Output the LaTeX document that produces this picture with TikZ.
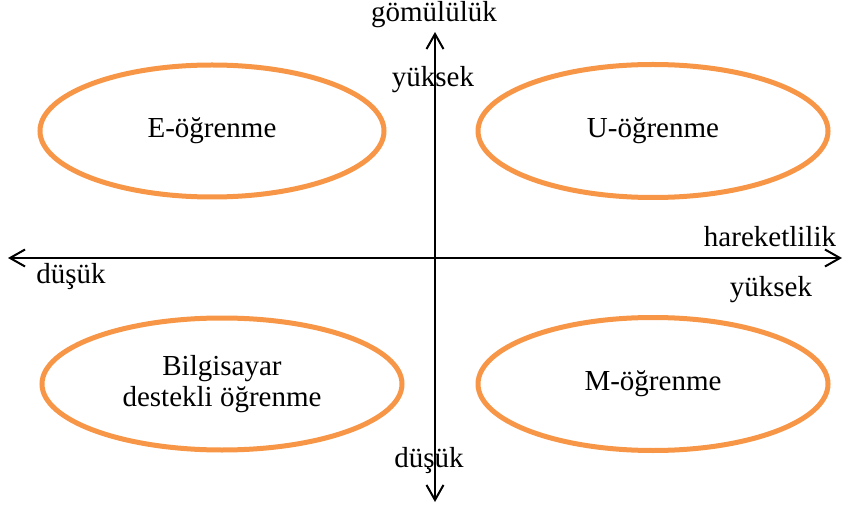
\documentclass[tikz,border=0pt]{standalone}
\usepackage{fontspec}
\setmainfont{Liberation Serif}
\usetikzlibrary{shapes.geometric,arrows.meta}
\definecolor{orng}{HTML}{F79646}
\begin{document}
\begin{tikzpicture}[x=1pt,y=-1pt,
  every node/.style={font=\fontsize{29}{31}\selectfont, inner sep=0pt},
  oval/.style={ellipse, draw=orng, line width=5pt, align=center},
  axis/.style={line width=2pt, {Straight Barb[length=15pt,width=17pt,line width=2pt]}-{Straight Barb[length=15pt,width=17pt,line width=2pt]}}]
\useasboundingbox (0,0) rectangle (845,510);
\node[oval, minimum width=344pt, minimum height=132pt] (e) at (212,131) {E-öğrenme};
\node[oval, minimum width=350pt, minimum height=133pt] (u) at (653,131) {U-öğrenme};
\node[oval, minimum width=360pt, minimum height=132pt] (b) at (222,384) {Bilgisayar\\destekli öğrenme};
\node[oval, minimum width=350pt, minimum height=133pt] (m) at (653,384) {M-öğrenme};
\coordinate (L) at (8,258);
\coordinate (R) at (842,258);
\coordinate (T) at (435,32);
\coordinate (B) at (435,502);
\draw[axis] (L) -- (R);
\draw[axis] (T) -- (B);
\node (gom) at (434,15) {gömülülük};
\node (yt) at (433,80) {yüksek};
\node (db) at (429,461) {düşük};
\node (dl) at (71,277) {düşük};
\node (har) at (770,237) {hareketlilik};
\node (yr) at (771,290) {yüksek};
\end{tikzpicture}
\end{document}
